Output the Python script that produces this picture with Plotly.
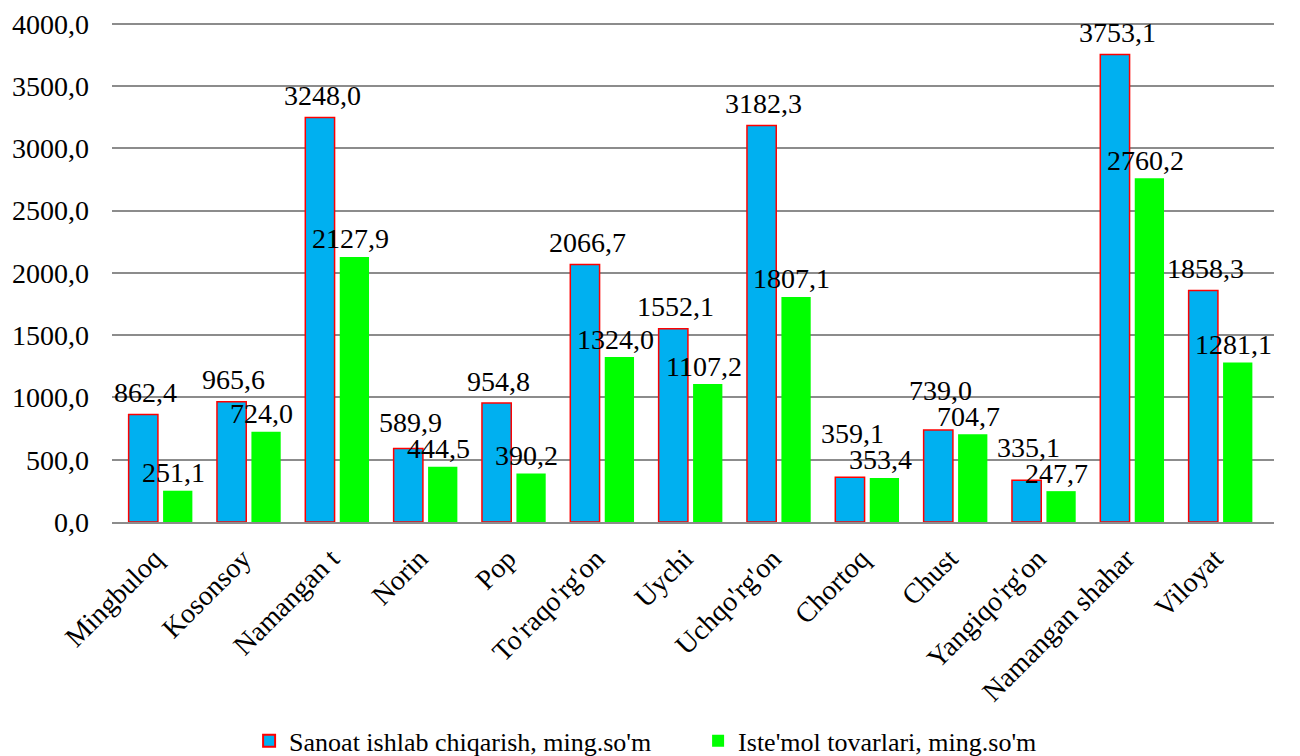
import plotly.graph_objects as go

categories = ["Mingbuloq", "Kosonsoy", "Namangan t", "Norin", "Pop", "To'raqo'rg'on",
              "Uychi", "Uchqo'rg'on", "Chortoq", "Chust", "Yangiqo'rg'on",
              "Namangan shahar", "Viloyat"]
sanoat = [862.4, 965.6, 3248.0, 589.9, 954.8, 2066.7, 1552.1, 3182.3, 359.1, 739.0, 335.1, 3753.1, 1858.3]
istemol = [251.1, 724.0, 2127.9, 444.5, 390.2, 1324.0, 1107.2, 1807.1, 353.4, 704.7, 247.7, 2760.2, 1281.1]
tick_vals = [0, 500, 1000, 1500, 2000, 2500, 3000, 3500, 4000]
names = ["Sanoat ishlab chiqarish, ming.so'm", "Iste'mol tovarlari, ming.so'm"]

FONT = "Liberation Serif, Times New Roman, serif"
FS = 28
W, H = 1300, 756
ML, MR, MT, MB = 112, 26, 20, 234
YMAX = 4030
px_per_unit = (H - MT - MB) / YMAX

fig = go.Figure()
fig.add_trace(go.Bar(
    x=categories, y=sanoat, name=names[0],
    marker=dict(color="#00B0F0", line=dict(color="#FF0000", width=1.5)),
))
fig.add_trace(go.Bar(
    x=categories, y=istemol, name=names[1],
    marker=dict(color="#00FF00", line=dict(color="#00FF00", width=0)),
))

# data labels, staggered vertically where neighbouring labels would collide
half = 17
for c, a, b in zip(categories, sanoat, istemol):
    sa, sb = 22.0, 18.0
    ya = a * px_per_unit + sa
    yb = b * px_per_unit + sb
    dy = ya - yb
    if abs(dy) < 26:
        if dy >= 0:
            sa += 26 - dy
        else:
            sb += 26 + dy
    fig.add_annotation(x=c, y=a, xref="x", yref="y", text=f"{a:.1f}".replace(".", ","),
                       showarrow=False, xshift=-half + 2, yshift=sa, yanchor="middle",
                       font=dict(family=FONT, size=FS, color="#000000"))
    fig.add_annotation(x=c, y=b, xref="x", yref="y", text=f"{b:.1f}".replace(".", ","),
                       showarrow=False, xshift=half - 4, yshift=sb, yanchor="middle",
                       font=dict(family=FONT, size=FS, color="#000000"))

fig.update_layout(
    width=W, height=H,
    margin=dict(l=ML, r=MR, t=MT, b=MB, autoexpand=False),
    paper_bgcolor="white", plot_bgcolor="white",
    separators=", ",
    barmode="group", bargap=0.22, bargroupgap=0.15,
    font=dict(family=FONT, size=FS, color="#000000"),
    showlegend=True,
    legend=dict(orientation="h", xref="container", yref="container",
                x=0.537, xanchor="center", y=0.02, yanchor="middle",
                font=dict(family=FONT, size=26, color="#000000"),
                entrywidth=404, entrywidthmode="pixels",
                traceorder="normal", itemsizing="constant"),
)
fig.update_xaxes(
    tickangle=-45, tickfont=dict(family=FONT, size=FS),
    showline=True, linecolor="#8C8C8C", linewidth=2, ticks="", showgrid=False,
    automargin=False, ticklabelstandoff=7, ticklabelshift=-6,
)
fig.update_yaxes(
    range=[0, YMAX], tickvals=tick_vals, tickformat=".1f",
    tickfont=dict(family=FONT, size=FS),
    showgrid=True, gridcolor="#8C8C8C", gridwidth=1.5,
    showline=False, zeroline=False, ticks="", ticklabelstandoff=22,
    automargin=False,
)

fig.write_html("out.html", config={"displayModeBar": False},
               post_script="document.body.style.margin='0';")
